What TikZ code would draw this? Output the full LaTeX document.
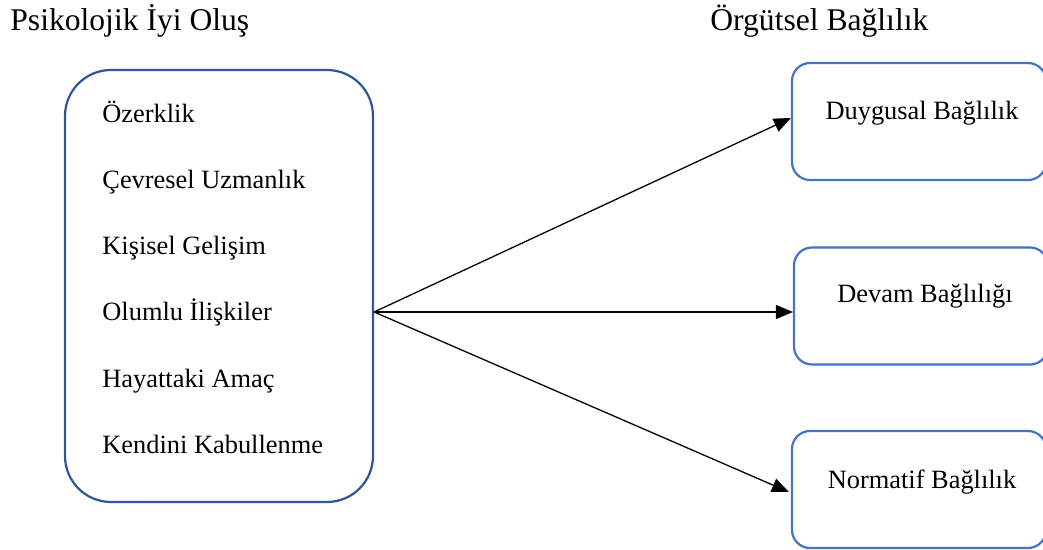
\documentclass[tikz,border=0pt]{standalone}
\usepackage{fontspec}
\setmainfont{Liberation Serif}
\usepackage{tikz}
\usetikzlibrary{arrows.meta,calc}
\definecolor{darkaccent}{RGB}{47,85,151}
\definecolor{accent}{RGB}{68,114,196}
\newcommand{\itemfont}{\fontsize{13.2}{15}\selectfont}
\newcommand{\titlefont}{\fontsize{15.8}{18}\selectfont}

\begin{document}
\begin{tikzpicture}[
  x=0.5pt, y=-0.5pt,
  bigbox/.style={draw=darkaccent, line width=1.1pt, rounded corners=23pt, minimum width=154pt, minimum height=216pt},
  sbox/.style={draw=accent, line width=1.1pt, rounded corners=9pt, minimum width=127pt, minimum height=58.5pt},
  item/.style={anchor=base west, inner sep=0pt, font=\itemfont},
  stext/.style={anchor=base, inner sep=0pt, font=\itemfont},
  title/.style={anchor=base west, inner sep=0pt, font=\titlefont},
  arrow/.style={-{Triangle[length=8.5pt,width=7pt]}, line width=0.65pt, color=black}
]
\useasboundingbox (0,0) rectangle (1043,550);
\node[title] (psititle) at (10,31) {Psikolojik İyi Oluş};
\node[title] (orgtitle) at (710,31) {Örgütsel Bağlılık};
% left box with the six dimensions
\node[bigbox] (psi) at (219,286) {};
\foreach \txt [count=\i from 0] in {Özerklik, Çevresel Uzmanlık, Kişisel Gelişim, Olumlu İlişkiler, Hayattaki Amaç, Kendini Kabullenme}
  \node[item] (item\i) at (102,123+66*\i) {\txt};
% right boxes, cut off at the right edge
\node[sbox] (duygusal) at (919,121.5) {};
\node[sbox] (devam) at (921,306) {};
\node[sbox] (normatif) at (919,489.5) {};
\node[stext] (duygusaltxt) at (922,120) {Duygusal Bağlılık};
\node[stext] (devamtxt) at (925,303) {Devam Bağlılığı};
\node[stext] (normatiftxt) at (922,488) {Normatif Bağlılık};
\coordinate (src) at ($(psi.east)+(0,26)$);
\draw[arrow] (src) -- ($(duygusal.west)+(0,-3.5)$);
\draw[arrow] (src) -- (devam.west |- src);
\draw[arrow] (src) -- ($(normatif.west)+(-2,2.5)$);
\end{tikzpicture}
\end{document}
